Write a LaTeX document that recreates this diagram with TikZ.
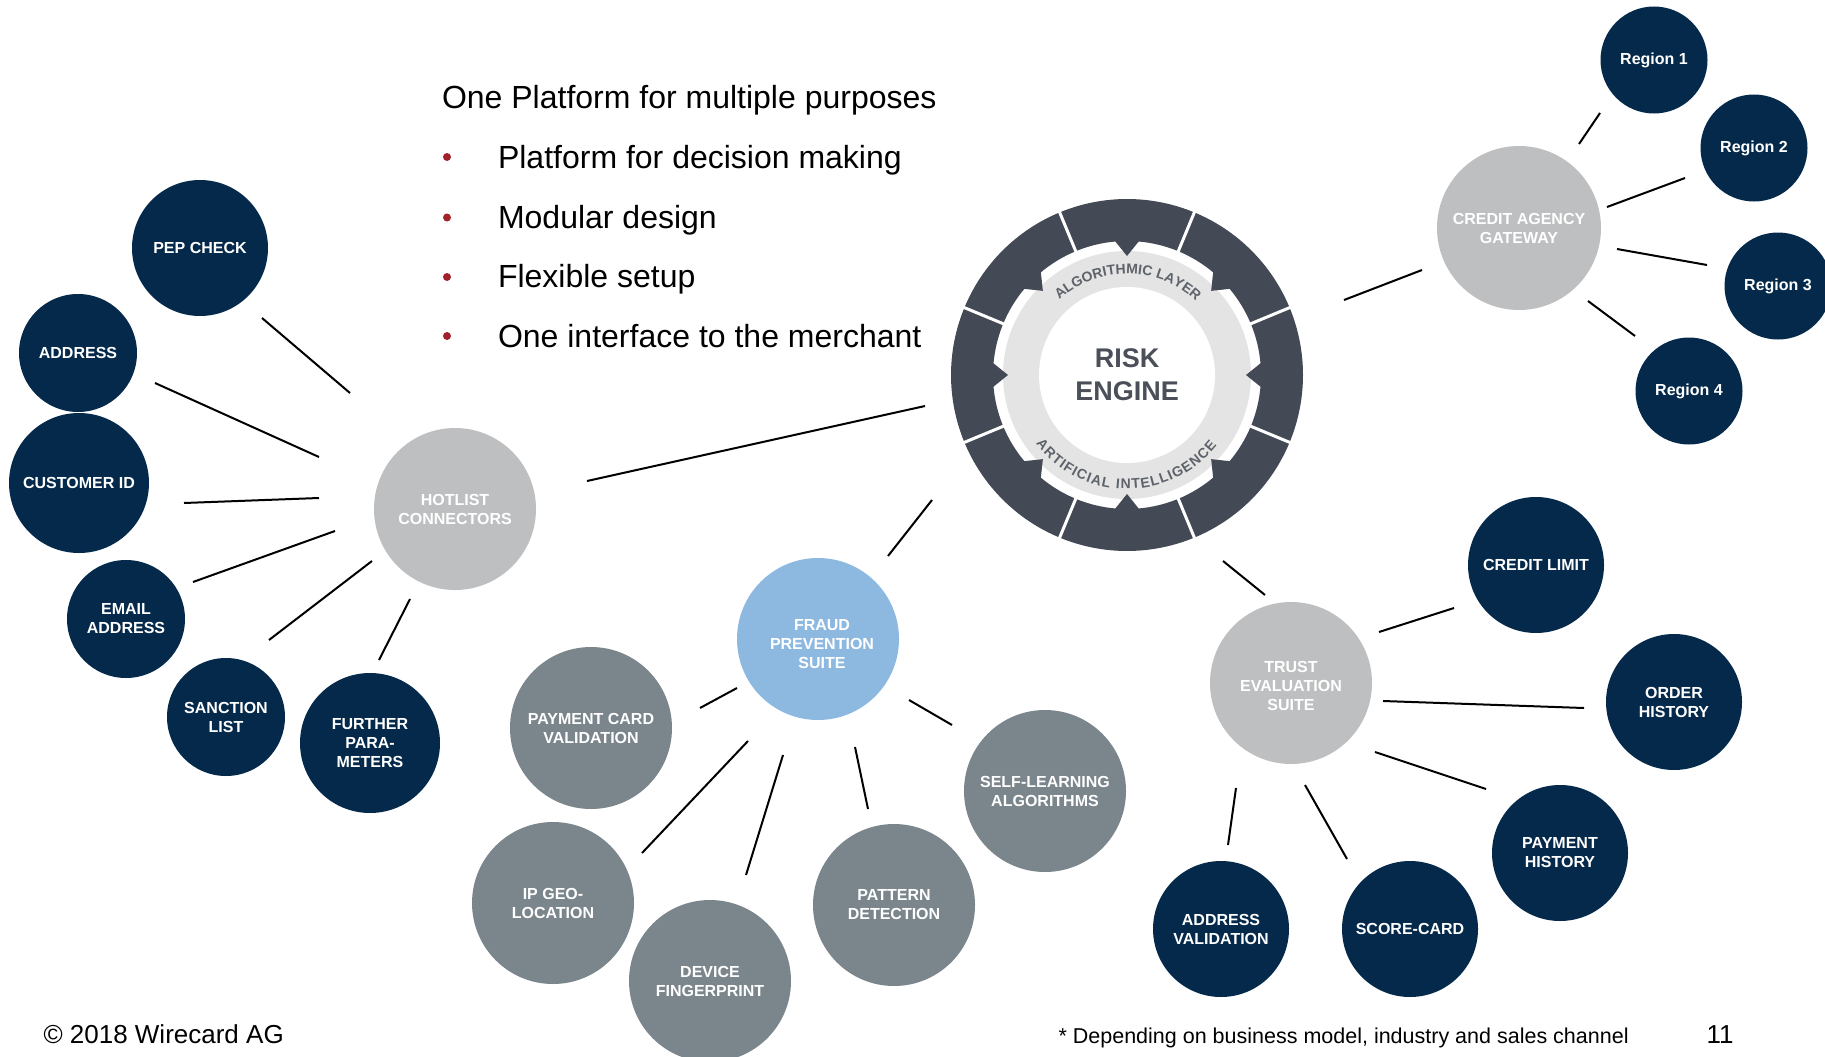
\documentclass[tikz,border=0pt]{standalone}
\usepackage{fontspec}
\setmainfont{Liberation Sans}
\usetikzlibrary{calc,decorations.text}
\definecolor{navy}{HTML}{05294A}
\definecolor{midgray}{HTML}{7B868C}
\definecolor{lightgrayb}{HTML}{BEBFC1}
\definecolor{lblue}{HTML}{8DB9E1}
\definecolor{ringdark}{HTML}{434A55}
\definecolor{ringgray}{HTML}{E4E4E4}
\definecolor{ringtxt}{HTML}{5E636B}
\definecolor{enginetxt}{HTML}{4A4F59}
\definecolor{bulletred}{HTML}{A0222B}
\begin{document}
\begin{tikzpicture}[x=1pt,y=1pt,
  bubble/.style={circle, inner sep=0pt, align=center, text=white, font=\fontsize{16pt}{19pt}\selectfont\bfseries},
  navyb/.style={bubble, fill=navy, minimum size=#1},
  lgb/.style={bubble, fill=lightgrayb, minimum size=#1},
  mgb/.style={bubble, fill=midgray, minimum size=162pt},
  bubbletext/.style={inner sep=0pt, align=center, text=white, font=\fontsize{16pt}{19pt}\selectfont\bfseries},
  link/.style={line width=2pt, black},
  bigtext/.style={anchor=base west, font=\fontsize{32pt}{38pt}\selectfont},
  bulletdot/.style={circle, fill=bulletred, inner sep=0pt, minimum size=8pt}]
\useasboundingbox (0,0) rectangle (1825,-1057);
\clip (0,0) rectangle (1825,-1057);

% ---------- risk engine ----------
\begin{scope}[shift={(1127,-375)}]
  \fill[ringgray] (0,0) circle[radius=124];
  \fill[white] (0,0) circle[radius=88];
  \foreach \a in {0,45,...,315}{
    \pgfmathsetmacro\as{\a-22.5}
    \pgfmathsetmacro\ae{\a+22.5}
    \pgfmathsetmacro\tl{\a+5}
    \pgfmathsetmacro\tr{\a-5}
    \fill[ringdark] (\as:176) arc[start angle=\as, end angle=\ae, radius=176]
      -- (\ae:134) arc[start angle=\ae, end angle=\tl, radius=134]
      -- (\a:119) -- (\tr:134) arc[start angle=\tr, end angle=\as, radius=134] -- cycle;
  }
  \foreach \a in {22.5,67.5,...,337.5}{
    \draw[white, line width=3pt] (\a:128) -- (\a:180);
  }
  \path[decorate, decoration={text along path,
      text={|\fontsize{14pt}{14pt}\selectfont\bfseries\color{ringtxt}|ALGORITHMIC LAYER},
      text align={fit to path}}]
    (132:101) arc[start angle=132, end angle=47, radius=101];
  \path[decorate, decoration={text along path,
      text={|\fontsize{14pt}{14pt}\selectfont\bfseries\color{ringtxt}|ARTIFICIAL INTELLIGENCE},
      text align={fit to path}}]
    (217:114) arc[start angle=217, end angle=322, radius=114];
\end{scope}
\node[circle, minimum size=352pt, inner sep=0pt, align=center, text=enginetxt,
      font=\fontsize{27pt}{33pt}\selectfont\bfseries] (risk) at (1127,-375) {RISK\\ENGINE};

% ---------- text block ----------
\node[bigtext] (title) at (438.5,-108) {One Platform for multiple purposes};
\node[bulletdot] (b1) at (447,-157) {};
\node[bulletdot] (b2) at (447,-217.5) {};
\node[bulletdot] (b3) at (447,-277) {};
\node[bulletdot] (b4) at (447,-336) {};
\node[bigtext] (t1) at (494.5,-168) {Platform for decision making};
\node[bigtext] (t2) at (494.5,-228.3) {Modular design};
\node[bigtext] (t3) at (494.5,-287.7) {Flexible setup};
\node[bigtext] (t4) at (494.5,-347) {One interface to the merchant};

% ---------- hotlist group ----------
\node[navyb=136pt] (pep) at (200,-248) {PEP CHECK};
\node[navyb=118pt] (addr) at (78,-353) {ADDRESS};
\node[navyb=140pt] (cust) at (79,-483) {CUSTOMER ID};
\node[navyb=118pt] (email) at (126,-619) {EMAIL\\ADDRESS};
\node[navyb=118pt] (sanc) at (226,-717) {SANCTION\\LIST};
\node[navyb=140pt] (furth) at (370,-743) {FURTHER\\PARA-\\METERS};
\node[lgb=162pt] (hot) at (455,-509) {HOTLIST\\CONNECTORS};

% ---------- fraud group ----------
\node[circle, fill=lblue, inner sep=0pt, minimum size=162pt] (fraud) at (818,-639) {};
\node[bubbletext] (fraudtxt) at ($(fraud)+(4,-5)$) {FRAUD\\PREVENTION\\SUITE};
\node[mgb] (pcv) at (591,-728) {PAYMENT CARD\\VALIDATION};
\node[mgb] (ipgeo) at (553,-903) {IP GEO-\\LOCATION};
\node[mgb] (device) at (710,-981) {DEVICE\\FINGERPRINT};
\node[mgb] (pattern) at (894,-905) {PATTERN\\DETECTION};
\node[mgb] (self) at (1045,-791) {SELF-LEARNING\\ALGORITHMS};

% ---------- trust group ----------
\node[circle, fill=lightgrayb, inner sep=0pt, minimum size=162pt] (trust) at (1291,-683) {};
\node[bubbletext] (trusttxt) at ($(trust)+(0,-2.5)$) {TRUST\\EVALUATION\\SUITE};
\node[navyb=136pt] (climit) at (1536,-565) {CREDIT LIMIT};
\node[navyb=136pt] (order) at (1674,-702) {ORDER\\HISTORY};
\node[navyb=136pt] (payhist) at (1560,-853) {PAYMENT\\HISTORY};
\node[navyb=136pt] (score) at (1410,-929) {SCORE-CARD};
\node[navyb=136pt] (addrval) at (1221,-929) {ADDRESS\\VALIDATION};

% ---------- credit agency group ----------
\node[lgb=164pt] (cag) at (1519,-228) {CREDIT AGENCY\\GATEWAY};
\node[navyb=107pt] (r1) at (1654,-60) {Region 1};
\node[navyb=107pt] (r2) at (1754,-148) {Region 2};
\node[navyb=107pt] (r3) at (1778,-286) {Region 3};
\node[navyb=107pt] (r4) at (1689,-391) {Region 4};

% ---------- connectors ----------
\draw[link] ($(pep)+(62,-70)$) -- ($(hot)+(-105,116)$);
\draw[link] ($(addr)+(77,-30)$) -- ($(hot)+(-136,52)$);
\draw[link] ($(cust)+(105,-20)$) -- ($(hot)+(-136,11)$);
\draw[link] ($(email)+(67,37)$) -- ($(hot)+(-120,-22)$);
\draw[link] ($(sanc)+(43,77)$) -- ($(hot)+(-83,-52)$);
\draw[link] ($(furth)+(9,83)$) -- ($(hot)+(-45,-90)$);
\draw[link] ($(hot)+(132,28)$) -- ($(risk)+(-202,-31)$);

\draw[link] ($(fraud)+(70,83)$) -- ($(risk)+(-195,-125)$);
\draw[link] ($(fraud)+(-81,-49)$) -- ($(pcv)+(109,20)$);
\draw[link] ($(fraud)+(-70,-102)$) -- ($(ipgeo)+(89,50)$);
\draw[link] ($(fraud)+(-35,-116)$) -- ($(device)+(36,106)$);
\draw[link] ($(fraud)+(37,-108)$) -- ($(pattern)+(-26,96)$);
\draw[link] ($(fraud)+(91,-61)$) -- ($(self)+(-93,66)$);

\draw[link] ($(trust)+(-26,88)$) -- ($(risk)+(96,-186)$);
\draw[link] ($(trust)+(88,51)$) -- ($(climit)+(-82,-43)$);
\draw[link] ($(trust)+(92,-18)$) -- ($(order)+(-90,-6)$);
\draw[link] ($(trust)+(84,-69)$) -- ($(payhist)+(-74,64)$);
\draw[link] ($(trust)+(14,-102)$) -- ($(score)+(-63,70)$);
\draw[link] ($(trust)+(-55,-105)$) -- ($(addrval)+(7,84)$);

\draw[link] ($(cag)+(-97,-42)$) -- ($(risk)+(217,75)$);
\draw[link] ($(cag)+(60,84)$) -- ($(r1)+(-54,-53)$);
\draw[link] ($(cag)+(88,21)$) -- ($(r2)+(-69,-30)$);
\draw[link] ($(cag)+(98,-21)$) -- ($(r3)+(-71,21)$);
\draw[link] ($(cag)+(69,-73)$) -- ($(r4)+(-54,55)$);

% ---------- footer ----------
\node[anchor=base west, font=\fontsize{26pt}{30pt}\selectfont] (copy) at (40,-1043) {© 2018 Wirecard AG};
\node[anchor=base west, font=\fontsize{21.5pt}{25pt}\selectfont] (note) at (1055,-1043) {* Depending on business model, industry and sales channel};
\node[anchor=base west, font=\fontsize{26pt}{30pt}\selectfont] (page) at (1703,-1043) {11};
\end{tikzpicture}
\end{document}
